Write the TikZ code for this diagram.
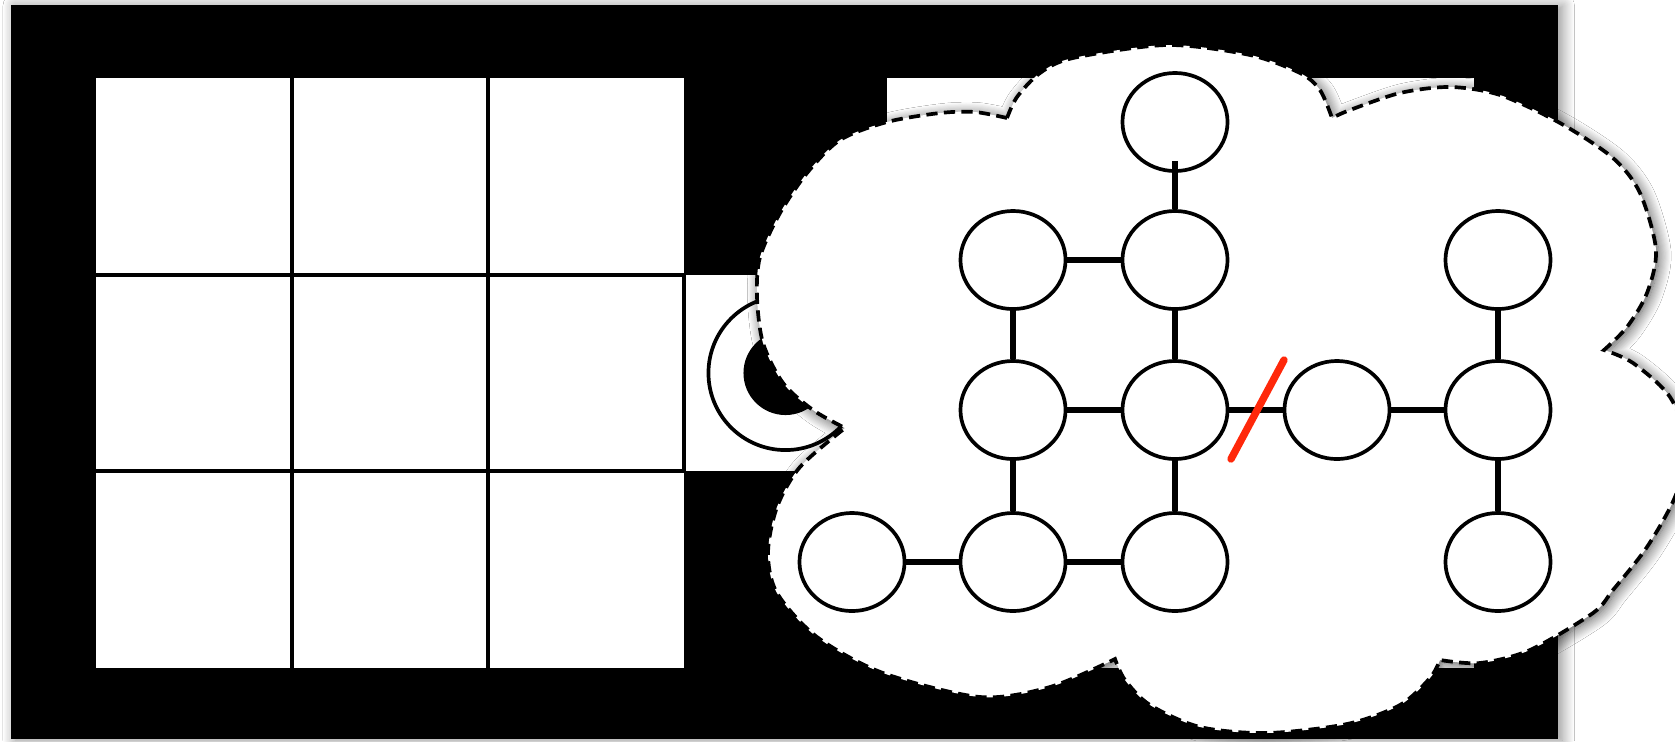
\documentclass[tikz,border=0pt]{standalone}
\usetikzlibrary{shapes.geometric,shadows.blur}
\definecolor{cutred}{RGB}{255,40,10}
\begin{document}
\begin{tikzpicture}[x=0.01cm,y=-0.01cm,
  gridline/.style={line width=1.05pt},
  gnode/.style={draw,ellipse,line width=1.05pt,minimum width=1.05cm,minimum height=0.98cm,inner sep=0pt,fill=white},
  link/.style={line width=1.6pt},
  cloudshape/.style={fill=white,draw,dash pattern=on 3.2pt off 1.8pt,line width=1.05pt,
    blur shadow={shadow xshift=0.8pt,shadow yshift=-0.8pt,shadow blur radius=3.5pt,shadow opacity=70,shadow blur steps=12}},
  cutmark/.style={draw=cutred,line width=2.1pt,line cap=round}]
\clip (0,0) rectangle (1675,741);
\fill[white] (0,0) rectangle (1675,741);
% black frame
\fill[black,blur shadow={shadow xshift=1.2pt,shadow yshift=-0.3pt,shadow blur radius=3.5pt,shadow opacity=45,shadow blur steps=12}] (11,5) rectangle (1558,739);
% left grid
\fill[white] (96,78) rectangle (684,668);
\draw[gridline] (292,78) -- (292,668) (488,78) -- (488,668) (96,275) -- (684,275) (96,471) -- (684,471);
% right grid
\fill[white] (887,78) rectangle (1474,668);
\draw[gridline] (1083,78) -- (1083,668) (1278,78) -- (1278,668) (887,275) -- (1474,275) (887,471) -- (1474,471);
% middle cell
\fill[white] (684,275) rectangle (887,471);
\draw[gridline] (684,275) -- (684,471) (887,275) -- (887,471);
\node[circle,draw,line width=1.05pt,minimum size=1.54cm,inner sep=0pt] (ring) at (785.5,373) {};
\node[circle,fill=black,minimum size=0.84cm,inner sep=0pt] (hole) at (785.5,373) {};
% cloud
\path[cloudshape] (1007,118)
  -- plot[smooth] coordinates {(1007,118) (1017,97) (1040,73) (1073,58) (1167,45) (1250,55) (1300,73) (1320,90) (1332,118)}
  -- plot[smooth] coordinates {(1332,118) (1350,110) (1400,93) (1450,87) (1500,95) (1560,123) (1613,158) (1640,193) (1656,250) (1647,293) (1627,327) (1604,350)}
  -- plot[smooth] coordinates {(1604,350) (1633,363) (1670,397) (1688,447) (1675,497) (1647,547) (1613,590) (1593,613) (1530,650) (1480,663) (1440,660)}
  -- plot[smooth] coordinates {(1440,660) (1430,678) (1400,705) (1347,724) (1267,733) (1200,727) (1150,705) (1125,680) (1115,659)}
  -- plot[smooth] coordinates {(1115,659) (1050,687) (980,697) (883,673) (817,637) (777,593) (768,553) (777,507) (800,467) (845,428)}
  -- plot[smooth] coordinates {(845,428) (813,410) (783,383) (763,343) (757,297) (760,257) (780,213) (807,173) (840,140) (887,122) (940,113) (975,112) (1007,118)}
  -- cycle;
% graph nodes
\node[gnode] (n03) at (1175,122) {};
\node[gnode] (n12) at (1013,260) {};
\node[gnode] (n13) at (1175,260) {};
\node[gnode] (n15) at (1498,260) {};
\node[gnode] (n22) at (1013,410) {};
\node[gnode] (n23) at (1175,410) {};
\node[gnode] (n24) at (1337,410) {};
\node[gnode] (n25) at (1498,410) {};
\node[gnode] (n31) at (852,562) {};
\node[gnode] (n32) at (1013,562) {};
\node[gnode] (n33) at (1175,562) {};
\node[gnode] (n35) at (1498,562) {};
% links
\draw[link] ([yshift=0.12cm]n03.south) -- (n13);
\draw[link] (n12) -- (n13);
\draw[link] (n12) -- (n22);
\draw[link] (n13) -- (n23);
\draw[link] (n22) -- (n23);
\draw[link] (n23) -- (n24);
\draw[link] (n24) -- (n25);
\draw[link] (n15) -- (n25);
\draw[link] (n25) -- (n35);
\draw[link] (n22) -- (n32);
\draw[link] (n23) -- (n33);
\draw[link] (n31) -- (n32);
\draw[link] (n32) -- (n33);
% cut mark
\coordinate (s1) at (1284,360);
\coordinate (s2) at (1231,459);
\draw[cutmark] (s1) -- (s2);
\end{tikzpicture}
\end{document}
